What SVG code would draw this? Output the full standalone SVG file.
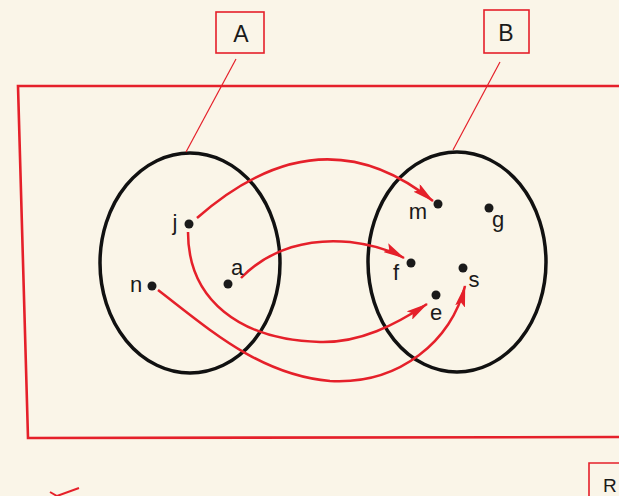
<svg xmlns="http://www.w3.org/2000/svg" width="619" height="496" viewBox="0 0 619 496">
<style>
.frame{fill:none;stroke:#e5202a;stroke-width:2.6}
.box{fill:none;stroke:#e5202a;stroke-width:1.6}
.lead{fill:none;stroke:#e5202a;stroke-width:1.2}
.set{fill:none;stroke:#111;stroke-width:3.5}
.arr{fill:none;stroke:#e5202a;stroke-width:2.5;marker-end:url(#ah)}
.dot{fill:#1a1a1a}
.lbl{font-family:"Liberation Sans","DejaVu Sans",sans-serif;font-size:22px;fill:#1a1a1a;text-anchor:middle}
.big{font-family:"Liberation Sans","DejaVu Sans",sans-serif;font-size:23px;fill:#1a1a1a;text-anchor:middle}
</style>
<defs>
<marker id="ah" viewBox="0 0 22 10" refX="21" refY="5" markerWidth="22" markerHeight="10" markerUnits="userSpaceOnUse" orient="auto">
<path d="M0,0 L22,5 L0,10 L4,5 z" fill="#e5202a"/>
</marker>
</defs>
<rect width="619" height="496" fill="#faf5e8"/>
<path class="frame" d="M619,86 L18,86 L28,438 L619,437"/>
<g id="labelA">
<rect class="box" x="216" y="12" width="48" height="41"/>
<text class="big" x="241" y="42">A</text>
</g>
<g id="labelB">
<rect class="box" x="484" y="10" width="45" height="43"/>
<text class="big" x="506" y="41">B</text>
</g>
<g id="labelR">
<path class="box" d="M619,463 L589,463 L589,496"/>
<text class="big" x="603" y="492" style="text-anchor:start;font-size:19px">R</text>
</g>
<path d="M50,492 L57,496 M57,496 L79,488" fill="none" stroke="#e5202a" stroke-width="2"/>
<g id="setA">
<ellipse class="set" cx="190" cy="263" rx="90" ry="110"/>
</g>
<g id="setB">
<ellipse class="set" cx="457" cy="262" rx="89" ry="110"/>
</g>
<g id="connectors">
<line class="lead" x1="236" y1="59" x2="186" y2="152"/>
<line class="lead" x1="500" y1="62" x2="453" y2="150"/>
<path class="arr" d="M197,218 Q320,110 433,201"/>
<path class="arr" d="M241,278 C270,248 310,238 350,242 C375,245 390,250 404,258"/>
<path class="arr" d="M188,232 C188,300 240,340 320,342 C360,343 395,325 427,304"/>
<path class="arr" d="M158,290 C210,330 260,375 330,381 C400,385 452,340 465,286"/>
</g>
<g id="j"><circle class="dot" cx="189" cy="224" r="4.5"/><text class="lbl" x="175" y="230">j</text></g>
<g id="a"><circle class="dot" cx="228" cy="284" r="4.5"/><text class="lbl" x="237" y="275">a</text></g>
<g id="n"><circle class="dot" cx="152" cy="286" r="4.5"/><text class="lbl" x="136" y="292">n</text></g>
<g id="m"><circle class="dot" cx="438" cy="204" r="4.5"/><text class="lbl" x="418" y="219">m</text></g>
<g id="g"><circle class="dot" cx="489" cy="208" r="4.5"/><text class="lbl" x="498" y="227">g</text></g>
<g id="f"><circle class="dot" cx="411" cy="263" r="4.5"/><text class="lbl" x="396" y="280">f</text></g>
<g id="s"><circle class="dot" cx="463" cy="268" r="4.5"/><text class="lbl" x="474" y="287">s</text></g>
<g id="e"><circle class="dot" cx="436" cy="295" r="4.5"/><text class="lbl" x="436" y="320">e</text></g>
</svg>
